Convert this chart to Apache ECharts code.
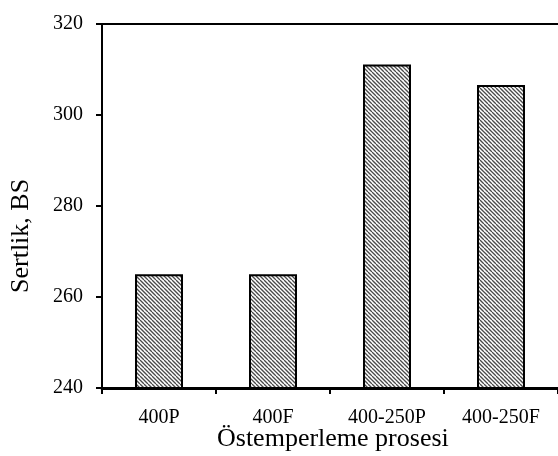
<!DOCTYPE html>
<html>
<head>
<meta charset="utf-8">
<script src="https://cdn.jsdelivr.net/npm/echarts@6/dist/echarts.min.js"></script>
<style>
  html, body { margin: 0; padding: 0; background: #fff; }
  #chart { width: 558px; height: 456px; }
</style>
</head>
<body>
<div id="chart"></div>
<script>
// veriler
const categories = ['400P', '400F', '400-250P', '400-250F'];
const hardness = [265, 265, 311.1, 306.6];
const yTicks = [240, 260, 280, 300, 320];

const font = 'Liberation Serif, Times New Roman, serif';

// tarama deseni
function hatch() {
  const c = document.createElement('canvas');
  c.width = 8;
  c.height = 8;
  const ctx = c.getContext('2d');
  ctx.fillStyle = '#ffffff';
  ctx.fillRect(0, 0, 8, 8);
  ctx.strokeStyle = '#4a4a4a';
  ctx.lineWidth = 1.3;
  for (let k = -8; k <= 8; k += 4) {
    ctx.beginPath();
    ctx.moveTo(k, 0);
    ctx.lineTo(k + 8, 8);
    ctx.stroke();
  }
  return c;
}

const myChart = echarts.init(document.getElementById('chart'));

const option = {
  backgroundColor: '#ffffff',
  animation: false,
  grid: {
    left: 102,
    top: 24,
    width: 458,
    bottom: 68,
    containLabel: false,
  },
  xAxis: [
    {
      type: 'category',
      data: categories,
      position: 'bottom',
      axisLine: { lineStyle: { color: '#000', width: 3 } },
      axisTick: { show: true, inside: false, length: 6, lineStyle: { color: '#000', width: 2 } },
      axisLabel: { color: '#000', fontFamily: font, fontSize: 20, margin: 20 },
      splitLine: { show: false },
    },
    {
      type: 'category',
      data: categories,
      position: 'top',
      axisLine: { lineStyle: { color: '#000', width: 2 } },
      axisTick: { show: false },
      axisLabel: { show: false },
    },
  ],
  yAxis: {
    type: 'value',
    min: yTicks[0],
    max: yTicks[yTicks.length - 1],
    interval: 20,
    axisLine: { show: true, lineStyle: { color: '#000', width: 2 } },
    axisTick: { show: true, inside: false, length: 6, lineStyle: { color: '#000', width: 2 } },
    axisLabel: { color: '#000', fontFamily: font, fontSize: 20, margin: 19 },
    splitLine: { show: false },
  },
  graphic: [
    {
      type: 'text',
      left: 217,
      top: 426,
      style: {
        text: 'Östemperleme prosesi',
        fill: '#000',
        font: '26px ' + font,
      },
    },
    {
      type: 'text',
      rotation: Math.PI / 2,
      x: 8,
      y: 293,
      style: {
        text: 'Sertlik, BS',
        fill: '#000',
        font: '26px ' + font,
      },
    },
  ],
  series: [
    {
      type: 'bar',
      data: hardness,
      barWidth: 48,
      itemStyle: {
        color: { image: hatch(), repeat: 'repeat' },
        borderColor: '#000',
        borderWidth: 2,
      },
    },
  ],
};

myChart.setOption(option);
</script>
</body>
</html>
